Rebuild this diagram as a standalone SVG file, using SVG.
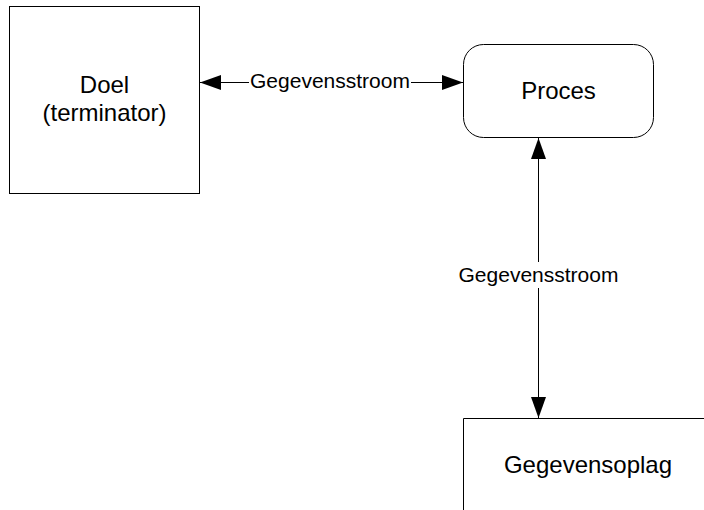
<svg xmlns="http://www.w3.org/2000/svg" width="704" height="510" viewBox="0 0 704 510">
  <style>
    .shape { fill: #ffffff; stroke: #000000; stroke-width: 1; }
    .edge { fill: none; stroke: #000000; stroke-width: 1; }
    .node-text { font-family: "Liberation Sans", Arial, sans-serif; font-size: 24px; fill: #000000; text-anchor: middle; }
    .edge-text { font-family: "Liberation Sans", Arial, sans-serif; font-size: 21px; fill: #000000; text-anchor: middle; }
  </style>
  <defs>
    <marker id="arrow" markerUnits="userSpaceOnUse" markerWidth="22" markerHeight="16" refX="21" refY="7.5" orient="auto-start-reverse" viewBox="0 0 22 16">
      <path d="M0,0 L21,7.5 L0,15 Z" fill="#000000"/>
    </marker>
  </defs>
  <rect width="704" height="510" fill="#ffffff"/>

  <!-- external entity -->
  <g id="doel">
    <rect class="shape" x="9.5" y="6.5" width="190" height="187"/>
    <text class="node-text" x="104.5" y="93">Doel</text>
    <text class="node-text" x="104.5" y="121">(terminator)</text>
  </g>

  <!-- process -->
  <g id="proces">
    <rect class="shape" x="463.5" y="44.5" width="190" height="93" rx="20" ry="20"/>
    <text class="node-text" x="558.5" y="99">Proces</text>
  </g>

  <!-- data store (open box) -->
  <g id="gegevensopslag">
    <path class="edge" d="M463.5,510 L463.5,418.5 L704,418.5"/>
    <text class="node-text" x="588" y="473">Gegevensoplag</text>
  </g>

  <!-- data flows -->
  <g id="connectors">
    <path class="edge" d="M249,82.5 L200,82.5" marker-end="url(#arrow)"/>
    <path class="edge" d="M411,82.5 L463,82.5" marker-end="url(#arrow)"/>
    <text class="edge-text" x="330" y="88">Gegevensstroom</text>

    <path class="edge" d="M538.5,262 L538.5,138" marker-end="url(#arrow)"/>
    <path class="edge" d="M538.5,288 L538.5,418" marker-end="url(#arrow)"/>
    <text class="edge-text" x="538.5" y="282">Gegevensstroom</text>
  </g>
</svg>
